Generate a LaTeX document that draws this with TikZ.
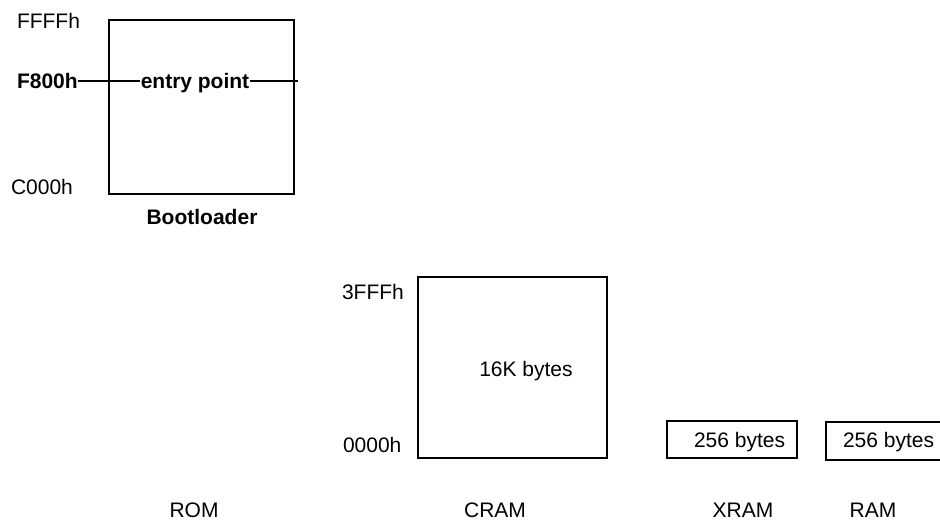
\documentclass[tikz,border=0pt]{standalone}
\usepackage{fontspec}
\setmainfont{Liberation Sans}
\begin{document}
\begin{tikzpicture}[x=1pt,y=-1pt,
  every node/.style={inner sep=0pt,outer sep=0pt,font=\fontsize{21}{24}\selectfont},
  membox/.style={draw,line width=1.9pt,rectangle,anchor=north west},
  lbl/.style={anchor=base west},
  clbl/.style={anchor=base},
  bl/.style={font=\fontsize{21}{24}\selectfont\bfseries}]
\useasboundingbox (0,0) rectangle (940,521);
% boxes
\node[membox,minimum width=185pt,minimum height=174pt] (boot) at (109,20) {};
\node[membox,minimum width=189pt,minimum height=181pt] (cram) at (418,277) {};
\node[membox,minimum width=130pt,minimum height=37pt] (xram) at (667,421) {};
\node[membox,minimum width=118pt,minimum height=38pt] (ram) at (826,422) {};
% ROM labels
\node[lbl] (ffff) at (17,29) {FFFFh};
\node[lbl,bl] (f800) at (17,89) {F800h};
\node[lbl] (c000) at (11,195) {C000h};
\node[clbl,bl] (bootl) at (202,225) {Bootloader};
\coordinate (lineend) at (298,81);
\draw[line width=1.3pt] (f800.east |- lineend) -- (lineend);
\node[clbl,bl,fill=white,inner sep=1pt] (entry) at (195,89) {entry point};
% CRAM labels
\node[lbl] (top3) at (342,300) {3FFFh};
\node[lbl] (zero) at (343,452) {0000h};
\node[clbl] (sixteen) at (526,377) {16K bytes};
% XRAM / RAM
\node[lbl] (xb) at (694,447) {256 bytes};
\node[lbl] (rb) at (843,447) {256 bytes};
% bottom names
\node[clbl] (romn) at (194,517) {ROM};
\node[clbl] (cramn) at (495,517) {CRAM};
\node[clbl] (xramn) at (743,517) {XRAM};
\node[clbl] (ramn) at (873,517) {RAM};
\end{tikzpicture}
\end{document}
